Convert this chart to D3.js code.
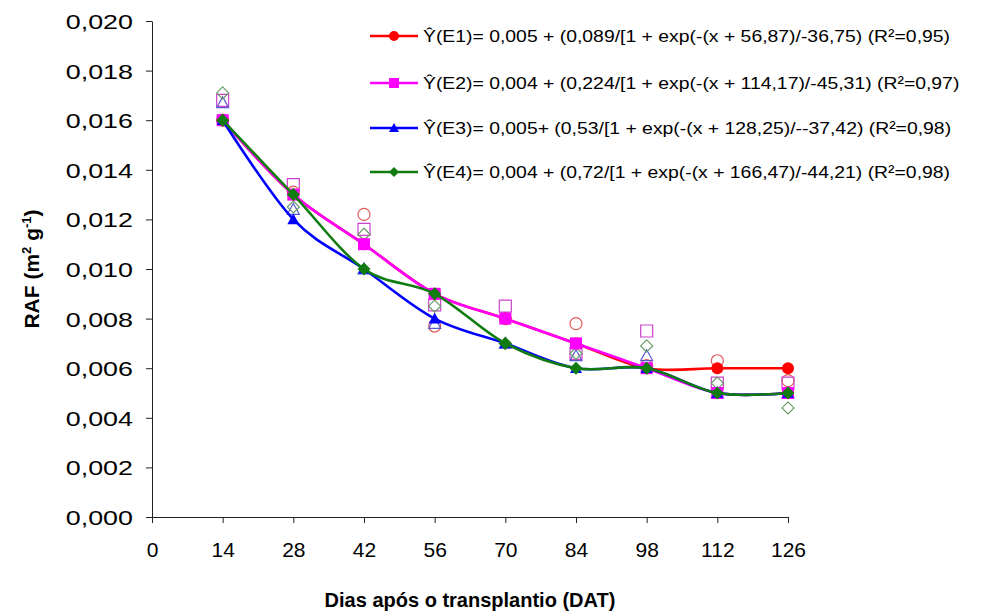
<!DOCTYPE html>
<html>
<head>
<meta charset="utf-8">
<script src="https://cdn.jsdelivr.net/npm/d3@7"></script>
<style>
  body { margin: 0; background: #fff; }
  text { font-family: "Liberation Sans", Arial, sans-serif; fill: #000; }
</style>
</head>
<body>
<svg id="chart" width="985" height="615"></svg>
<script>
// days after transplanting
var days = [14, 28, 42, 56, 70, 84, 98, 112, 126];

// fitted values (filled markers, smooth lines)
var fitE1 = [0.016, 0.013, 0.011, 0.009, 0.008, 0.007, 0.006, 0.006, 0.006];
var fitE2 = [0.016, 0.013, 0.011, 0.009, 0.008, 0.007, 0.006, 0.005, 0.005];
var fitE3 = [0.016, 0.012, 0.010, 0.008, 0.007, 0.006, 0.006, 0.005, 0.005];
var fitE4 = [0.016, 0.013, 0.010, 0.009, 0.007, 0.006, 0.006, 0.005, 0.005];

// observed values (hollow markers)
var obsE1 = [0.0160, 0.0131, 0.0122, 0.0077, 0.0080, 0.0078, 0.0061, 0.0063, 0.0055];
var obsE2 = [0.0168, 0.0134, 0.0116, 0.00855, 0.0085, 0.0066, 0.0075, 0.0054, 0.0054];
var obsE3 = [0.0167, 0.0124, 0.0100, 0.0078, 0.0070, 0.0065, 0.0065, 0.0050, 0.0050];
var obsE4 = [0.0171, 0.0125, 0.0114, 0.0085, 0.0070, 0.0066, 0.0069, 0.0054, 0.0044];

var legendLabels = [
  "\u0176(E1)= 0,005 + (0,089/[1 + exp(-(x + 56,87)/-36,75) (R\u00b2=0,95)",
  "\u0176(E2)= 0,004 + (0,224/[1 + exp(-(x + 114,17)/-45,31) (R\u00b2=0,97)",
  "\u0176(E3)= 0,005+ (0,53/[1 + exp(-(x + 128,25)/--37,42) (R\u00b2=0,98)",
  "\u0176(E4)= 0,004 + (0,72/[1 + exp(-(x + 166,47)/-44,21) (R\u00b2=0,98)"
];

var xTicks = [0, 14, 28, 42, 56, 70, 84, 98, 112, 126];
var yTicks = [0, 0.002, 0.004, 0.006, 0.008, 0.010, 0.012, 0.014, 0.016, 0.018, 0.020];

var series = [
  {fit: fitE1, obs: obsE1, shape: "circle", color: "#ff0000", light: "#e05a5a"},
  {fit: fitE2, obs: obsE2, shape: "square", color: "#ff00ff", light: "#cc44cc"},
  {fit: fitE3, obs: obsE3, shape: "triangle", color: "#0000ff", light: "#5a5ad0"},
  {fit: fitE4, obs: obsE4, shape: "diamond", color: "#107c10", light: "#6a9a6a"}
];

var svg = d3.select("#chart");
var margin = {left: 152, right: 197, top: 21, bottom: 98};
var width = 985, height = 615;

var x = d3.scaleLinear().domain([0, 126]).range([margin.left, width - margin.right]);
var y = d3.scaleLinear().domain([0, 0.020]).range([height - margin.bottom, margin.top]);

function shapePath(shape, s) {
  var h = s / 2;
  switch (shape) {
    case "circle":
      return "M" + h + ",0A" + h + "," + h + " 0 1,1 " + (-h) + ",0A" + h + "," + h + " 0 1,1 " + h + ",0Z";
    case "square":
      return "M" + (-h) + "," + (-h) + "H" + h + "V" + h + "H" + (-h) + "Z";
    case "triangle":
      return "M0," + (-h) + "L" + h + "," + (h * 0.8) + "L" + (-h) + "," + (h * 0.8) + "Z";
    case "diamond":
      return "M0," + (-h) + "L" + h + ",0L0," + h + "L" + (-h) + ",0Z";
  }
}

var fmt = function(v) { return d3.format(".3f")(v).replace(".", ","); };

// axes
var ySx = 1.28;
var yAxis = svg.append("g")
  .attr("transform", "translate(" + x(0) + ",0)")
  .call(d3.axisLeft(y).tickValues(yTicks).tickSize(6).tickSizeOuter(0).tickFormat(fmt));
yAxis.selectAll("text")
  .style("font-size", "21px")
  .attr("x", -19 / ySx)
  .attr("dy", "0.36em")
  .attr("transform", "scale(" + ySx + ",1)");

var xAxis = svg.append("g")
  .attr("transform", "translate(0," + y(0) + ")")
  .call(d3.axisBottom(x).tickValues(xTicks).tickSize(6).tickSizeOuter(0));
xAxis.selectAll("text").style("font-size", "21px").attr("y", 25);

svg.selectAll(".domain, .tick line").attr("stroke", "#222").attr("stroke-width", 1);

// axis titles
svg.append("text")
  .attr("x", 470)
  .attr("y", 607)
  .attr("text-anchor", "middle")
  .style("font-size", "20px")
  .style("font-weight", "bold")
  .text("Dias ap\u00f3s o transplantio (DAT)");

var yt = svg.append("text")
  .attr("transform", "translate(39," + y(0.010) + ") rotate(-90)")
  .attr("text-anchor", "middle")
  .style("font-size", "21px")
  .style("font-weight", "bold");
yt.append("tspan").text("RAF (m");
yt.append("tspan").attr("dy", -8).style("font-size", "13px").text("2");
yt.append("tspan").attr("dy", 8).text(" g");
yt.append("tspan").attr("dy", -8).style("font-size", "13px").text("-1");
yt.append("tspan").attr("dy", 8).text(")");

var line = d3.line()
  .curve(d3.curveCardinal.tension(0))
  .x(function(d, i) { return x(days[i]); })
  .y(function(d) { return y(d); });

// observed points (hollow)
series.forEach(function(s) {
  svg.append("g").selectAll("path")
    .data(s.obs)
    .enter().append("path")
    .attr("transform", function(d, i) { return "translate(" + x(days[i]) + "," + y(d) + ")"; })
    .attr("d", shapePath(s.shape, 12))
    .attr("fill", "none")
    .attr("stroke", s.light)
    .attr("stroke-width", 1.2);
});

// fitted lines + filled markers
series.forEach(function(s) {
  svg.append("path")
    .attr("d", line(s.fit))
    .attr("fill", "none")
    .attr("stroke", s.color)
    .attr("stroke-width", 2.6);
  svg.append("g").selectAll("path")
    .data(s.fit)
    .enter().append("path")
    .attr("transform", function(d, i) { return "translate(" + x(days[i]) + "," + y(d) + ")"; })
    .attr("d", shapePath(s.shape, s.shape == "diamond" ? 13 : 12))
    .attr("fill", s.color);
});

// legend
var legY = [36, 83, 128, 172];
var legSx = 1.14;
series.forEach(function(s, i) {
  var g = svg.append("g").attr("transform", "translate(370," + legY[i] + ")");
  g.append("line").attr("x1", 0).attr("x2", 48).attr("stroke", s.color).attr("stroke-width", 2.6);
  g.append("path").attr("transform", "translate(24,0)")
    .attr("d", shapePath(s.shape, 10)).attr("fill", s.color);
  g.append("text")
    .attr("transform", "scale(" + legSx + ",1)")
    .attr("x", 53 / legSx).attr("y", 6)
    .style("font-size", "17px")
    .text(legendLabels[i]);
});
</script>
</body>
</html>
